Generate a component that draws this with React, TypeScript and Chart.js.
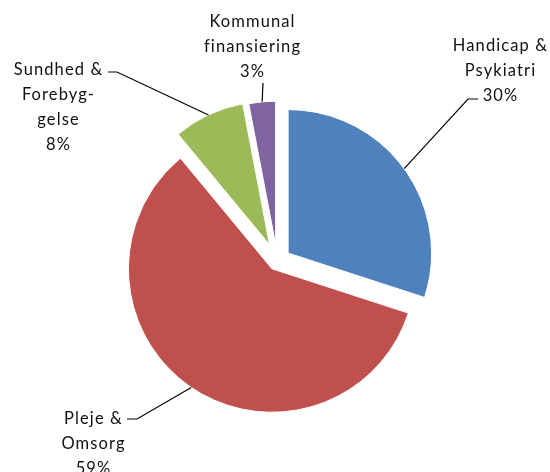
import React, { useEffect, useRef } from "react";
import { Chart, registerables, ArcElement, PieController } from "chart.js";

Chart.register(...registerables);

const categories = ["Handicap & Psykiatri", "Pleje & Omsorg", "Sundhed & Forebyggelse", "Kommunal finansiering"];
const values = [30, 59, 8, 3];
const labelLines = [
  ["Handicap &", "Psykiatri", "30%"],
  ["Pleje &", "Omsorg", "59%"],
  ["Sundhed &", "Forebyg-", "gelse", "8%"],
  ["Kommunal", "finansiering", "3%"],
];
const colors = ["#4F81BD", "#C0504D", "#9BBB59", "#8064A2"];
// explode distance per slice, in pixels
const explode = [13.5, 9.4, 17.9, 16.4];

// Arc element whose offset is a plain radial translation (like an exploded Excel pie)
class ExplodedArc extends ArcElement {
  static id = "explodedArc";
  draw(ctx: CanvasRenderingContext2D) {
    const a: any = this;
    const o: any = a.options;
    const t = o.offset || 0;
    const mid = (a.startAngle + a.endAngle) / 2;
    const cx = a.x + Math.cos(mid) * t;
    const cy = a.y + Math.sin(mid) * t;
    ctx.save();
    ctx.beginPath();
    ctx.moveTo(cx, cy);
    ctx.arc(cx, cy, a.outerRadius, a.startAngle, a.endAngle);
    ctx.closePath();
    ctx.fillStyle = o.backgroundColor;
    ctx.fill();
    if (o.borderWidth) {
      ctx.lineWidth = o.borderWidth;
      ctx.strokeStyle = o.borderColor;
      ctx.lineJoin = "round";
      ctx.stroke();
    }
    ctx.restore();
  }
}
class ExplodedPie extends PieController {
  static id = "explodedPie";
  static defaults = { dataElementType: "explodedArc" };
}
Chart.register(ExplodedArc as any, ExplodedPie as any);

// label layout: text center x, first line middle y, leader path after anchor
const labelLayout = [
  { x: 500, y: 46, path: [[468, 99], [478, 99]] },
  { x: 93, y: 419, path: [[137, 419], [127, 419]] },
  { x: 58, y: 70, path: [[117, 72], [108, 72]] },
  { x: 252, y: 22, path: [[263, 83]] },
];
const LINE_H = 24.8;

const labelPlugin = {
  id: "pieLabels",
  afterDraw(chart: any) {
    const ctx = chart.ctx;
    const meta = chart.getDatasetMeta(0);
    ctx.save();
    ctx.font = "16.5px Lato";
    (ctx as any).letterSpacing = "1.1px";
    ctx.fillStyle = "#111";
    ctx.textAlign = "center";
    ctx.textBaseline = "middle";
    meta.data.forEach((arc: any, i: number) => {
      const t = arc.options.offset || 0;
      const mid = (arc.startAngle + arc.endAngle) / 2;
      const ax = arc.x + Math.cos(mid) * (t + arc.outerRadius);
      const ay = arc.y + Math.sin(mid) * (t + arc.outerRadius);
      const lay = labelLayout[i];
      ctx.beginPath();
      ctx.strokeStyle = "#000";
      ctx.lineWidth = 1.2;
      ctx.moveTo(ax, ay);
      lay.path.forEach((p) => ctx.lineTo(p[0], p[1]));
      ctx.stroke();
      labelLines[i].forEach((line, j) => {
        ctx.fillText(line, lay.x + 0.5, lay.y + j * LINE_H);
      });
    });
    ctx.restore();
  },
};

export default function App() {
  const ref = useRef<HTMLCanvasElement | null>(null);
  useEffect(() => {
    if (!ref.current) return;
    const chart = new Chart(ref.current, {
      type: "explodedPie" as any,
      data: {
        labels: categories,
        datasets: [
          {
            data: values,
            backgroundColor: colors,
            borderColor: "#ffffff",
            borderWidth: 1,
            hoverBorderWidth: 1,
            offset: explode,
            hoverOffset: 0,
          },
        ],
      },
      options: {
        responsive: false,
        animation: false,
        events: [],
        layout: { padding: { left: 124.25, right: 119.85, top: 108.05, bottom: 58.05 } },
        plugins: {
          legend: { display: false },
          tooltip: { enabled: false },
          title: { display: false },
        },
      } as any,
      plugins: [labelPlugin],
    });
    return () => chart.destroy();
  }, []);
  return (
    <div style={{ position: "fixed", left: 0, top: 0, width: 550, height: 472, background: "#fff" }}>
      <canvas ref={ref} width={550} height={472} />
    </div>
  );
}
